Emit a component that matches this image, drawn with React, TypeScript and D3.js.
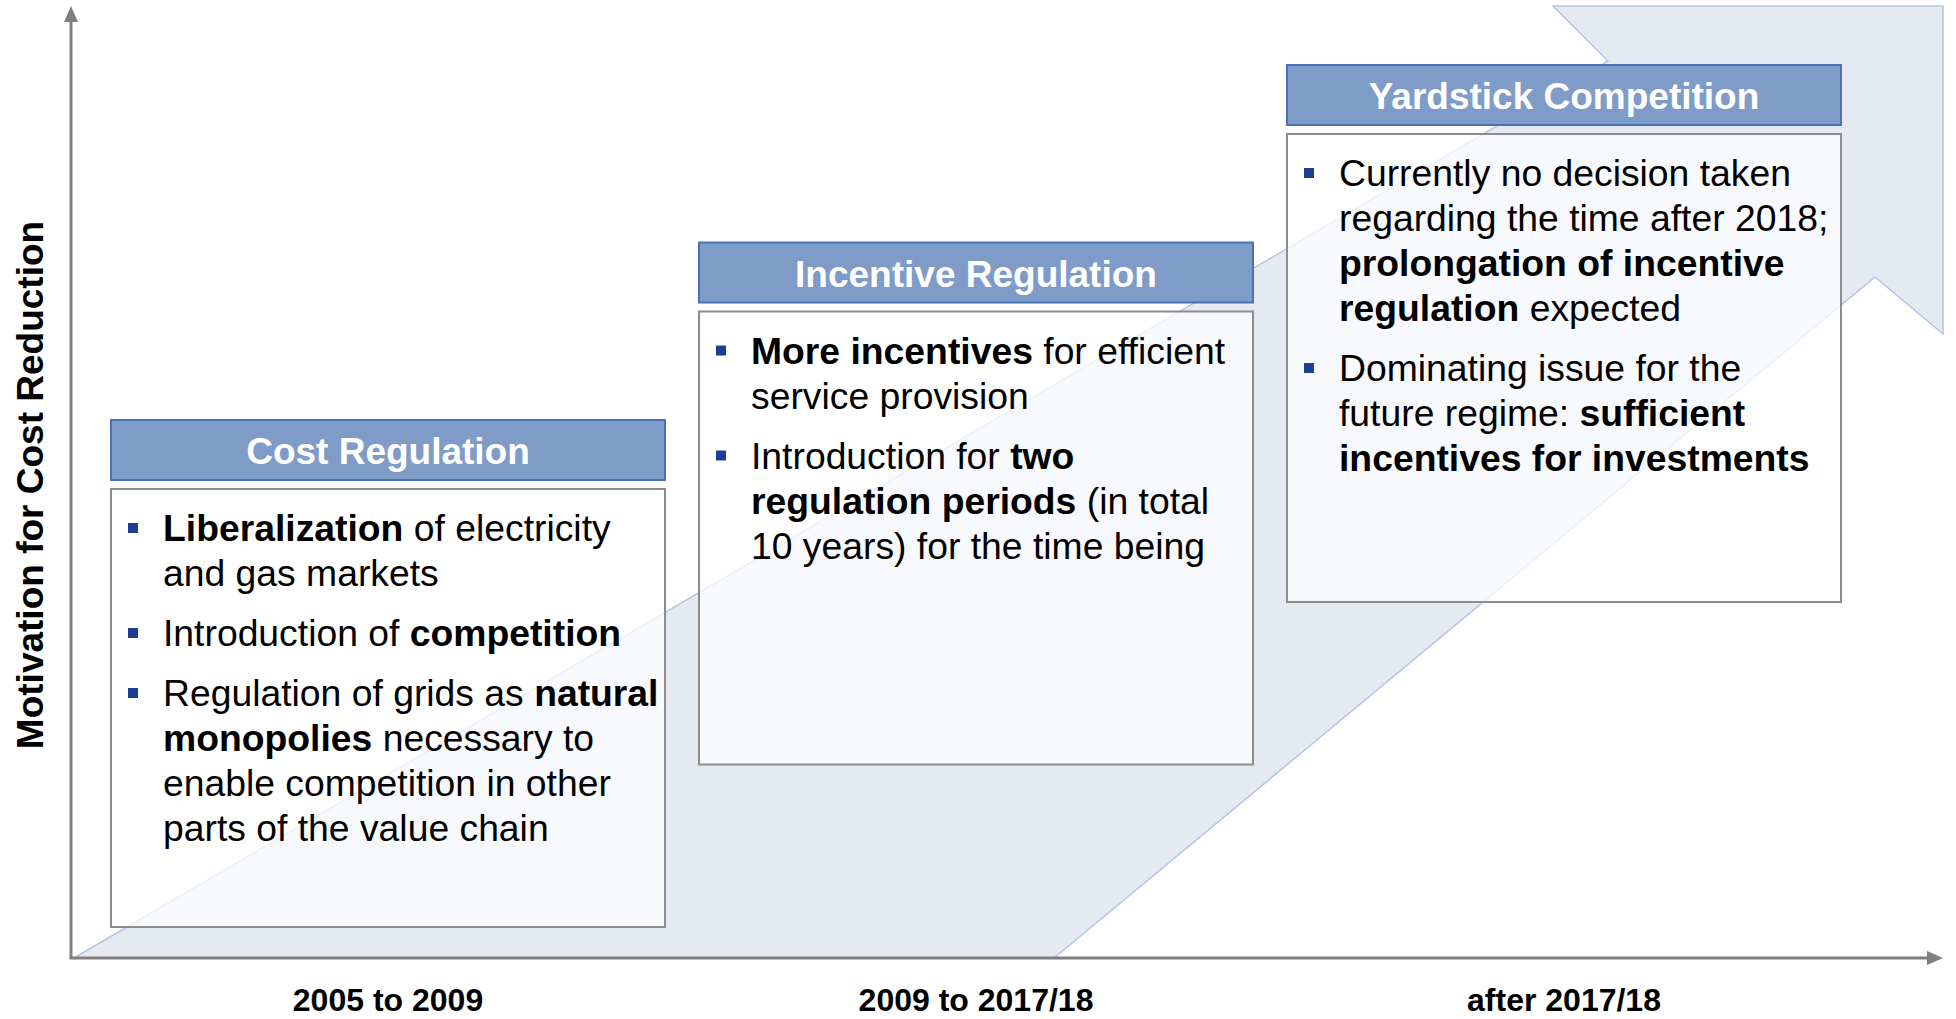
import * as d3 from 'd3';

type Seg = [string, boolean?];
type Bullet = Seg[][];

const periods = ['2005 to 2009', '2009 to 2017/18', 'after 2017/18'];
const regimes = ['Cost Regulation', 'Incentive Regulation', 'Yardstick Competition'];
const levels = [1, 2, 3];

const costBullets: Bullet[] = [
  [[['Liberalization', true], [' of electricity']], [['and gas markets']]],
  [[['Introduction of '], ['competition', true]]],
  [
    [['Regulation of grids as '], ['natural', true]],
    [['monopolies', true], [' necessary to']],
    [['enable competition in other']],
    [['parts of the value chain']],
  ],
];

const incentiveBullets: Bullet[] = [
  [[['More incentives', true], [' for efficient']], [['service provision']]],
  [
    [['Introduction for '], ['two', true]],
    [['regulation periods', true], [' (in total']],
    [['10 years) for the time being']],
  ],
];

const yardstickBullets: Bullet[] = [
  [
    [['Currently no decision taken']],
    [['regarding the time after 2018;']],
    [['prolongation of incentive', true]],
    [['regulation', true], [' expected']],
  ],
  [
    [['Dominating issue for the']],
    [['future regime: '], ['sufficient', true]],
    [['incentives for investments', true]],
  ],
];

const bulletsByRegime = [costBullets, incentiveBullets, yardstickBullets];

const W = 1956;
const H = 1019;
const FONT = "'Liberation Sans', Arial, Helvetica, sans-serif";
const axisColor = '#7f7f7f';

const origin = { x: 71, y: 958 };
const top = 6;
const right = 1943;

const boxW = 554;
const headerH = 60;
const lineH = 45;
const gapH = 15;

export default function App() {
  const x = d3.scalePoint<string>().domain(periods).range([388, 1564]);
  // header top per motivation level
  const yHead = d3.scaleLinear().domain([1, 3]).range([420, 65]);
  // body bottom per motivation level
  const yBottom = d3.scaleLinear().domain([1, 3]).range([927, 602]);

  // big rising arrow in the background
  const band: [number, number][] = [
    [origin.x + 3, origin.y],
    [1608, 61],
    [1553, top],
    [right, top],
    [right, 334],
    [1875, 277],
    [1054, origin.y],
  ];
  const bandPath = d3.line()(band) + 'Z';

  return (
    <svg
      width={W}
      height={H}
      style={{ position: 'absolute', left: 0, top: 0, background: '#fff' }}
      fontFamily={FONT}
    >
      <path d={bandPath} fill="#e4e9f2" stroke="#b4c5e4" strokeWidth={1.5} />

      {/* axes */}
      <line x1={origin.x} y1={origin.y} x2={origin.x} y2={top + 14} stroke={axisColor} strokeWidth={3} />
      <path d={`M${origin.x},${top}L${origin.x - 7},${top + 16}L${origin.x + 7},${top + 16}Z`} fill={axisColor} />
      <line x1={origin.x - 1.5} y1={origin.y} x2={right - 14} y2={origin.y} stroke={axisColor} strokeWidth={3} />
      <path d={`M${right},${origin.y}L${right - 16},${origin.y - 7}L${right - 16},${origin.y + 7}Z`} fill={axisColor} />

      <text
        transform={`translate(43,485) rotate(-90)`}
        textAnchor="middle"
        fontSize={37}
        fontWeight="bold"
        fill="#000"
      >
        Motivation for Cost Reduction
      </text>

      {periods.map((p) => (
        <text key={p} x={x(p)} y={1011} textAnchor="middle" fontSize={32} fontWeight="bold" fill="#000">
          {p}
        </text>
      ))}

      {regimes.map((r, i) => {
        const cx = x(periods[i]) as number;
        const left = cx - boxW / 2;
        const hTop = yHead(levels[i]);
        const bTop = hTop + headerH + 9;
        const bBottom = yBottom(levels[i]);
        let yy = bTop + 52;
        const rows: JSX.Element[] = [];
        bulletsByRegime[i].forEach((b, bi) => {
          if (bi > 0) yy += gapH;
          b.forEach((line, li) => {
            if (li === 0) {
              rows.push(
                <rect key={`b${bi}`} x={left + 17} y={yy - 18} width={10} height={10} fill="#1c3f94" />
              );
            }
            rows.push(
              <text key={`t${bi}-${li}`} x={left + 52} y={yy} fontSize={37.3} fill="#000" style={{ whiteSpace: 'pre' }}>
                {line.map((s, si) => (
                  <tspan key={si} fontWeight={s[1] ? 'bold' : 'normal'}>
                    {s[0]}
                  </tspan>
                ))}
              </text>
            );
            yy += lineH;
          });
        });
        return (
          <g key={r}>
            <rect x={left} y={hTop} width={boxW} height={headerH} fill="#7f9bc8" stroke="#4a70b8" strokeWidth={2} />
            <text x={cx} y={hTop + headerH / 2 + 14} textAnchor="middle" fontSize={37} fontWeight="bold" fill="#fff">
              {r}
            </text>
            <rect
              x={left}
              y={bTop}
              width={boxW}
              height={bBottom - bTop}
              fill="#ffffff"
              fillOpacity={0.72}
              stroke="#8c8c8c"
              strokeWidth={2}
            />
            {rows}
          </g>
        );
      })}
    </svg>
  );
}
